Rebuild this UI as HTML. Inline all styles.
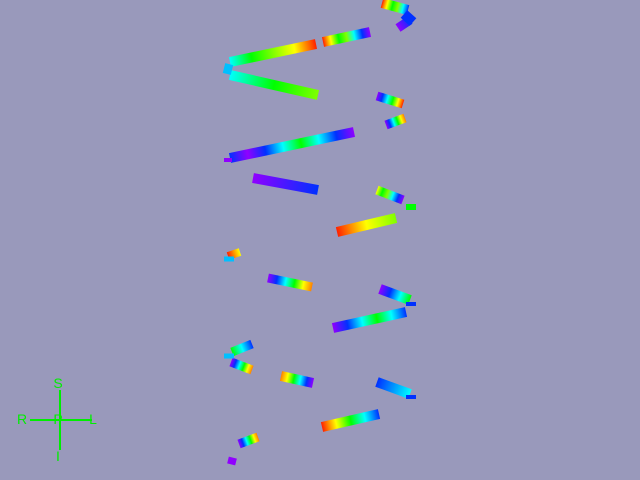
<!DOCTYPE html>
<html><head><meta charset="utf-8"><style>
html,body{margin:0;padding:0;background:#9999bb;}
svg{display:block;font-family:"Liberation Sans",sans-serif;}
</style></head><body>
<svg id="scene" width="640" height="480" viewBox="0 0 640 480">
<rect width="640" height="480" fill="#9999bb"/>
<defs id="defs"></defs>
<g id="ribbons"></g>
<g stroke="#00ee00" stroke-width="2" fill="#00ee00">
<line x1="30" y1="420" x2="92" y2="420"/>
<line x1="60" y1="390" x2="60" y2="450"/>
<text x="58" y="388" font-size="14" stroke="none" text-anchor="middle">S</text>
<text x="22" y="424" font-size="14" stroke="none" text-anchor="middle">R</text>
<text x="93" y="424" font-size="14" stroke="none" text-anchor="middle">L</text>
<text x="58" y="424" font-size="14" stroke="none" text-anchor="middle">P</text>
<text x="58" y="461" font-size="14" stroke="none" text-anchor="middle">I</text>
</g>
</svg>
<script>
const C={r:'#ff2000',o:'#ff8000',y:'#ffff00',g:'#00ff00',c:'#00ffff',b:'#0030ff',p:'#9000ff',l:'#80ff00',s:'#00c0ff'};
const segStarts=[[230,62],[323,42],[382,3],[398,28],[230,75],[377,96],[386,125],[230,158],[253,178],[377,190],[337,232],[228,256],[268,278],[380,289],[333,328],[232,352],[231,362],[281,376],[377,382],[322,427],[239,444],[228,460],[404,14],[224,68],[224,160],[224,259],[406,207],[406,304],[406,397],[224,356]];
const segEnds=[[316,44],[370,32],[408,10],[410,20],[318,95],[403,104],[405,118],[354,132],[318,190],[403,200],[396,218],[240,252],[312,287],[410,300],[406,312],[252,344],[252,370],[313,383],[410,394],[379,414],[258,437],[236,462],[413,22],[232,70],[232,160],[234,259],[416,207],[416,304],[416,397],[234,356]];
const segColors=['cglyr','ryglcbp','ryglcb','pb','cgl','pbcgyr','pbcgyo','bpbcgcbp','pb','yglcbp','ryl','ry','pbcgyo','pbcg','pbcgcb','gcb','pbcgyo','oygcbp','bc','rygcb','pbcgyo','p','b','s','p','s','g','b','b','s'];
const segWidths=[10,10,10,9,10,9,9,10,10,9,10,8,9,10,10,9,9,10,10,10,9,7,10,10,4,5,6,4,4,5];
const defs=document.getElementById('defs'),g=document.getElementById('ribbons'),ns='http://www.w3.org/2000/svg';
segStarts.forEach((s,i)=>{
 const e=segEnds[i],cols=segColors[i];
 const lg=document.createElementNS(ns,'linearGradient');
 lg.id='gr'+i;lg.setAttribute('gradientUnits','userSpaceOnUse');
 lg.setAttribute('x1',s[0]);lg.setAttribute('y1',s[1]);lg.setAttribute('x2',e[0]);lg.setAttribute('y2',e[1]);
 [...cols].forEach((k,j)=>{const st=document.createElementNS(ns,'stop');st.setAttribute('offset',cols.length>1?j/(cols.length-1):0);st.setAttribute('stop-color',C[k]);lg.appendChild(st);});
 defs.appendChild(lg);
 const ln=document.createElementNS(ns,'line');
 ln.setAttribute('x1',s[0]);ln.setAttribute('y1',s[1]);ln.setAttribute('x2',e[0]);ln.setAttribute('y2',e[1]);
 ln.setAttribute('stroke',cols.length>1?'url(#gr'+i+')':C[cols]);ln.setAttribute('stroke-width',segWidths[i]);
 
 
 g.appendChild(ln);
});
</script>
</body></html>
